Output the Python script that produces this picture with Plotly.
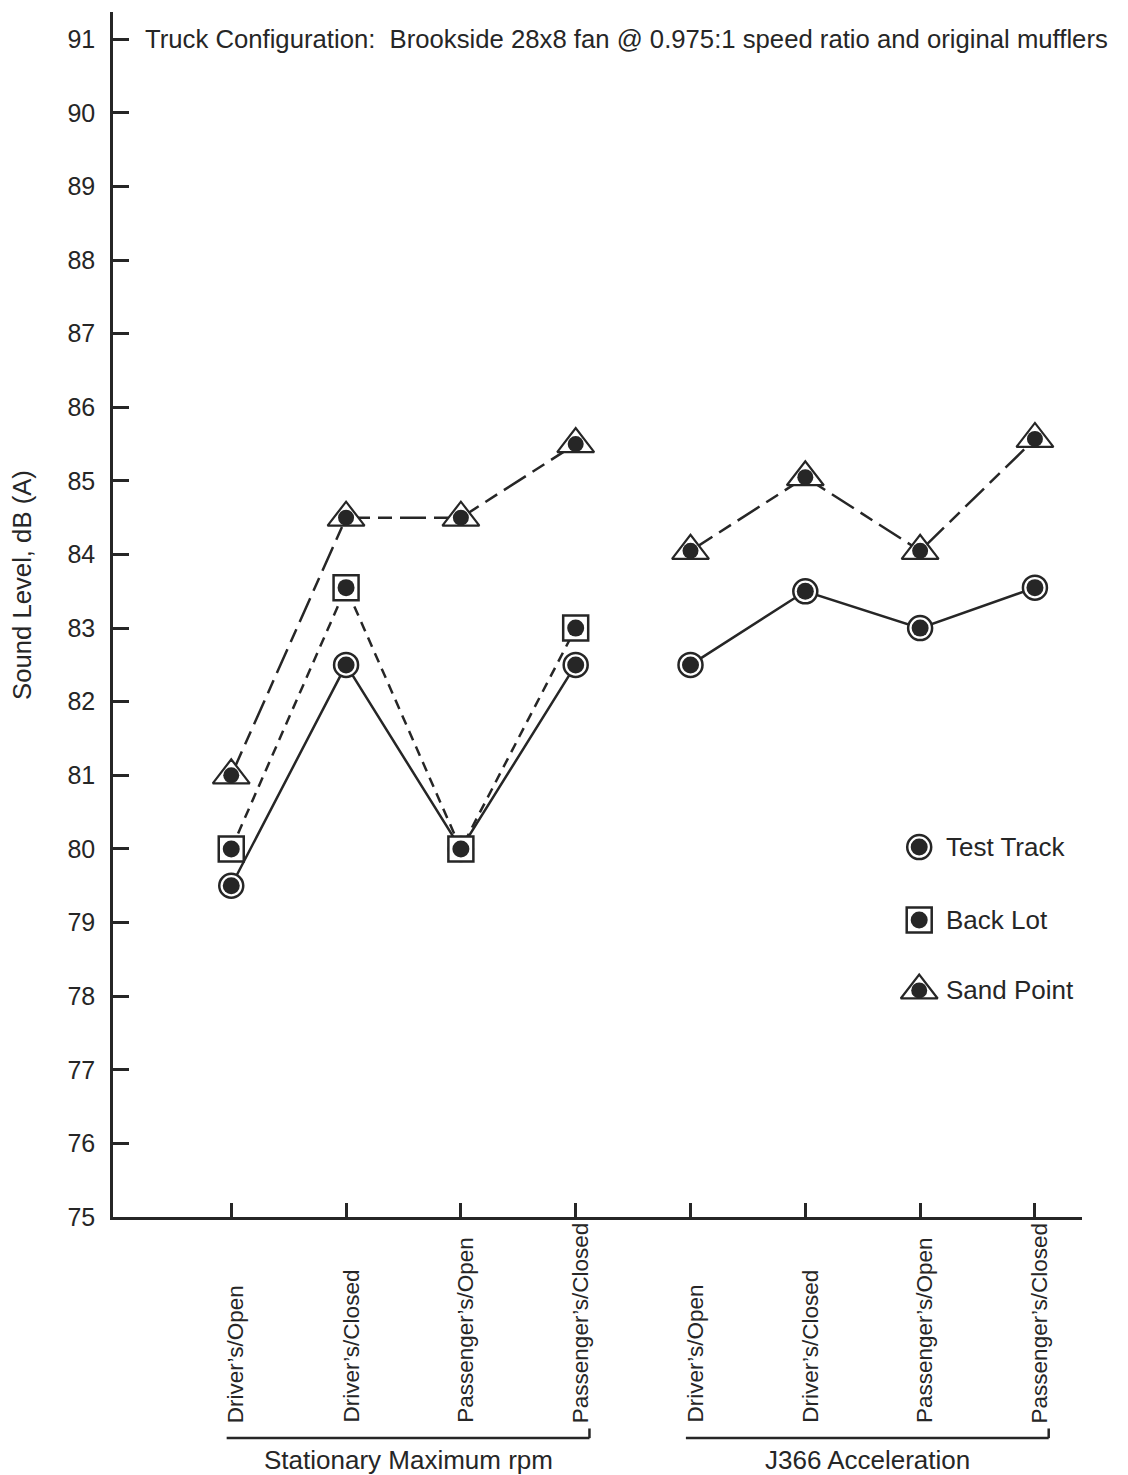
import plotly.graph_objects as go

# ---------------- data ----------------
CATEGORIES = ["Driver’s/Open", "Driver’s/Closed", "Passenger’s/Open", "Passenger’s/Closed",
              "Driver’s/Open", "Driver’s/Closed", "Passenger’s/Open", "Passenger’s/Closed"]
GROUPS = ["Stationary Maximum rpm", "J366 Acceleration"]
X_STAT = [0, 1, 2, 3]
X_J366 = [4, 5, 6, 7]

TEST_TRACK_STAT = [79.5, 82.5, 80.0, 82.5]
TEST_TRACK_J366 = [82.5, 83.5, 83.0, 83.55]
BACK_LOT_STAT = [80.0, 83.55, 80.0, 83.0]
SAND_POINT_STAT = [81.0, 84.5, 84.5, 85.5]
SAND_POINT_J366 = [84.05, 85.05, 84.05, 85.57]

Y_TICKS = list(range(75, 92))
LEGEND_LABELS = ["Test Track", "Back Lot", "Sand Point"]
TITLE = "Truck Configuration:  Brookside 28x8 fan @ 0.975:1 speed ratio and original mufflers"
Y_TITLE = "Sound Level, dB (A)"

# ---------------- style ----------------
INK = "#262626"
FONT = "Liberation Sans, Arial, sans-serif"
LW = 2.5
STYLES = {
    "Test Track": dict(dash="solid", symbol="circle", size=24, dot=17, lw=2.5),
    "Back Lot": dict(dash="10px,7px", symbol="square", size=25, dot=17, lw=2.5),
    "Sand Point": dict(dash="26px,8px,14px,8px", symbol="triangle-up", size=32, dot=16, lw=2.2),
}

fig = go.Figure()

series = [
    ("Test Track", [(X_STAT, TEST_TRACK_STAT), (X_J366, TEST_TRACK_J366)]),
    ("Back Lot", [(X_STAT, BACK_LOT_STAT)]),
    ("Sand Point", [(X_STAT, SAND_POINT_STAT), (X_J366, SAND_POINT_J366)]),
]

# lines first
for name, segs in series:
    st = STYLES[name]
    for xs, ys in segs:
        fig.add_trace(go.Scatter(x=xs, y=ys, mode="lines",
                                 line=dict(color=INK, width=LW, dash=st["dash"]),
                                 showlegend=False, hoverinfo="skip"))
# markers on top
for name, segs in series:
    st = STYLES[name]
    for xs, ys in segs:
        fig.add_trace(go.Scatter(x=xs, y=ys, mode="markers",
                                 marker=dict(symbol=st["symbol"], size=st["size"], color="white",
                                             line=dict(color=INK, width=st["lw"])),
                                 showlegend=False, name=name))
        fig.add_trace(go.Scatter(x=xs, y=ys, mode="markers",
                                 marker=dict(symbol="circle", size=st["dot"], color=INK,
                                             line=dict(width=0)),
                                 showlegend=False, hoverinfo="skip"))

# custom legend on an overlay axis (0..1)
LEG_X = 0.832
LEG_TEXT_X = 0.858
LEG_Y = [0.307, 0.2465, 0.188]
for lab, ly in zip(LEGEND_LABELS, LEG_Y):
    st = STYLES[lab]
    fig.add_trace(go.Scatter(x=[LEG_X], y=[ly], xaxis="x2", yaxis="y2", mode="markers",
                             marker=dict(symbol=st["symbol"], size=st["size"], color="white",
                                         line=dict(color=INK, width=st["lw"])),
                             showlegend=False, hoverinfo="skip"))
    fig.add_trace(go.Scatter(x=[LEG_X], y=[ly], xaxis="x2", yaxis="y2", mode="markers",
                             marker=dict(symbol="circle", size=st["dot"], color=INK),
                             showlegend=False, hoverinfo="skip"))
    fig.add_annotation(x=LEG_TEXT_X, y=ly, xref="x2", yref="y2", text=lab, showarrow=False,
                       xanchor="left", yanchor="middle", font=dict(size=26, color=INK, family=FONT))

# category labels (rotated, bottom-aligned)
for i, c in enumerate(CATEGORIES):
    fig.add_annotation(x=i, y=-0.1726, xref="x", yref="paper", text=c, textangle=-90,
                       showarrow=False, xanchor="center", yanchor="bottom", xshift=5,
                       font=dict(size=22.5, color=INK, family=FONT))

# group labels and brackets
group_ranges = [(X_STAT[0], X_STAT[-1]), (X_J366[0], X_J366[-1])]
for g, (a, b) in zip(GROUPS, group_ranges):
    fig.add_annotation(x=(a + b) / 2, y=-0.2017, xref="x", yref="paper", text=g, showarrow=False,
                       xanchor="center", yanchor="middle", xshift=5,
                       font=dict(size=26, color=INK, family=FONT))
    fig.add_shape(type="line", xref="x", yref="paper", x0=a - 0.04, x1=b + 0.12,
                  y0=-0.1835, y1=-0.1835, line=dict(color=INK, width=2.5))
    fig.add_shape(type="line", xref="x", yref="paper", x0=b + 0.12, x1=b + 0.12,
                  y0=-0.1835, y1=-0.1755, line=dict(color=INK, width=2.5))

# title and y title
fig.add_annotation(x=0.031, y=91, xref="paper", yref="y", text=TITLE, showarrow=False,
                   xanchor="left", yanchor="middle", font=dict(size=25.7, color=INK, family=FONT))
fig.add_annotation(x=-0.0939, y=0.5245, xref="paper", yref="paper", text=Y_TITLE, textangle=-90,
                   showarrow=False, xanchor="center", yanchor="middle",
                   font=dict(size=25.7, color=INK, family=FONT))

# page body has an 8px margin: compensate so the plot lands where the reference has it
fig.update_layout(
    width=1120, height=1467,
    margin=dict(l=105, r=46, t=4, b=258),
    paper_bgcolor="white", plot_bgcolor="white",
    showlegend=False,
    font=dict(family=FONT, color=INK),
    xaxis=dict(range=[-1.03, 7.41], tickvals=list(range(len(CATEGORIES))), showticklabels=False,
               ticks="inside", ticklen=14, tickwidth=2.5, tickcolor=INK,
               showline=True, linecolor=INK, linewidth=2.5, showgrid=False, zeroline=False),
    yaxis=dict(range=[75, 91.37], tickvals=Y_TICKS, ticks="inside", ticklen=16, tickwidth=2.5,
               tickcolor=INK, showline=True, linecolor=INK, linewidth=2.5, showgrid=False,
               zeroline=False, tickfont=dict(size=25, color=INK, family=FONT),
               ticklabelstandoff=10),
    xaxis2=dict(range=[0, 1], overlaying="x", visible=False),
    yaxis2=dict(range=[0, 1], overlaying="y", visible=False),
)

fig.write_html("out.html")
